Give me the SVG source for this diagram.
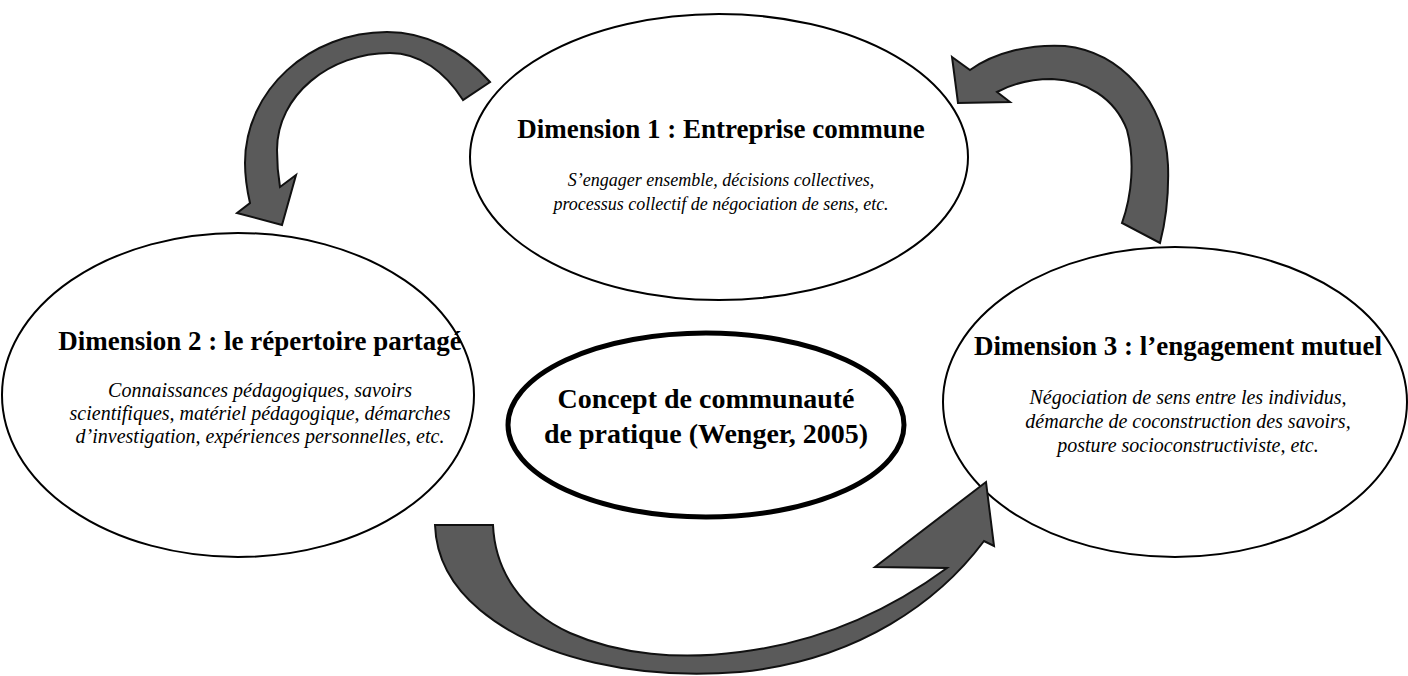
<svg xmlns="http://www.w3.org/2000/svg" width="1408" height="676" viewBox="0 0 1408 676">
<style>
.ell{fill:#fff;stroke:#000;stroke-width:2}
.ctr{fill:#fff;stroke:#000;stroke-width:5}
.t{font-family:"Liberation Serif","Times New Roman",serif;font-weight:bold;font-size:27px;text-anchor:middle;fill:#000}
.i{font-family:"Liberation Serif","Times New Roman",serif;font-style:italic;font-size:18px;text-anchor:middle;fill:#000}
.i2{font-family:"Liberation Serif","Times New Roman",serif;font-style:italic;font-size:20px;text-anchor:middle;fill:#000}
.c{font-family:"Liberation Serif","Times New Roman",serif;font-weight:bold;font-size:28px;text-anchor:middle;fill:#000}
.arr{fill:#5a5a5a;stroke:#111;stroke-width:2;stroke-linejoin:miter}
</style>
<rect width="1408" height="676" fill="#fff"/>
<g id="node-dim1">
<ellipse class="ell" cx="719" cy="157" rx="249" ry="143"/>
<text class="t" x="721" y="138">Dimension 1 : Entreprise commune</text>
<text class="i" x="721" y="186">S’engager ensemble, décisions collectives,</text>
<text class="i" x="721" y="210">processus collectif de négociation de sens, etc.</text>
</g>
<g id="node-dim2">
<ellipse class="ell" cx="238" cy="395" rx="236" ry="162"/>
<text class="t" x="260" y="350">Dimension 2 : le répertoire partagé</text>
<text class="i2" x="260" y="397">Connaissances pédagogiques, savoirs</text>
<text class="i2" x="260" y="420">scientifiques, matériel pédagogique, démarches</text>
<text class="i2" x="260" y="443">d’investigation, expériences personnelles, etc.</text>
</g>
<g id="node-dim3">
<ellipse class="ell" cx="1175" cy="402" rx="232" ry="155"/>
<text class="t" x="1178" y="355">Dimension 3 : l’engagement mutuel</text>
<text class="i2" x="1188" y="404">Négociation de sens entre les individus,</text>
<text class="i2" x="1188" y="428">démarche de coconstruction des savoirs,</text>
<text class="i2" x="1188" y="452">posture socioconstructiviste, etc.</text>
</g>
<g id="node-center">
<ellipse class="ctr" cx="706" cy="425" rx="198" ry="92"/>
<text class="c" x="706" y="408">Concept de communauté</text>
<text class="c" x="706" y="443">de pratique (Wenger, 2005)</text>
</g>
<g id="connectors">
<path class="arr" d="M490,82 C462,50 425,32 387,32 C310,32 245,90 245,163 C245,178 247,190 250,203 L237,213 L282,225 L296,175 L280,187 C278,175 277,162 277,150 C277,95 330,53 390,53 C420,53 445,72 463,100 Z"/>
<path class="arr" d="M952,57 L970,70 C995,52 1030,44 1065,46 C1120,52 1165,100 1168,165 C1169,195 1166,220 1160,243 L1122,223 C1132,195 1135,160 1127,130 C1115,98 1085,80 1052,79 C1030,79 1012,84 997,92 L1010,102 L958,103 Z"/>
<path class="arr" d="M435,525 L493,525 C495,570 520,610 570,633 C620,655 680,660 740,652 C820,642 890,610 947,568 L875,567 L986,482 L994,546 L984,541 C940,600 860,660 740,672 C640,680 540,660 480,610 C450,585 436,555 435,525 Z"/>
</g>
</svg>
